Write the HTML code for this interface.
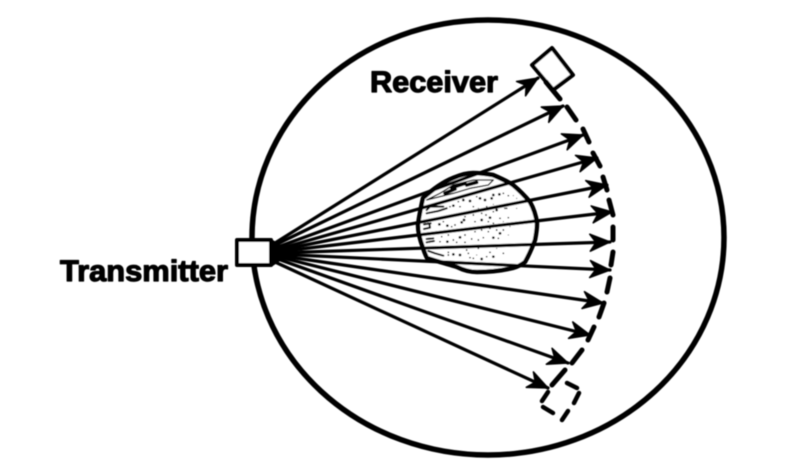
<!DOCTYPE html>
<html><head><meta charset="utf-8"><style>html,body{margin:0;padding:0;background:#fff}svg{display:block}</style></head>
<body><svg width="800" height="475" viewBox="0 0 800 475" xmlns="http://www.w3.org/2000/svg">
<defs>
<filter id="b" x="-5%" y="-5%" width="110%" height="110%"><feGaussianBlur stdDeviation="0.45"/></filter>
<marker id="a" markerUnits="userSpaceOnUse" markerWidth="26" markerHeight="22" refX="23" refY="11" orient="auto"><path d="M3 2.500 L23 11 L3 19.500 L9 11 Z" fill="#000" stroke="#000" stroke-width="1.500" stroke-linejoin="round"/></marker>
</defs>
<g filter="url(#b)" fill="none" stroke="#000" stroke-linecap="round" stroke-linejoin="round">
<ellipse cx="488" cy="237.500" rx="236" ry="217.500" stroke-width="5.500"/>
<rect x="237" y="240" width="34" height="25" fill="#fff" stroke-width="4"/>
<path d="M423 198 C432 190 443 182 453 178 C460 175 466 173 473 173 C480 173 487 174 493 175 C500 178 507 181 513 185 C519 190 525 196 530 202 C534 209 536 216 537 223 C537 229 536 235 535 240 C532 248 529 255 525 262 C521 265 517 267 513 268 C500 271 488 272 477 272 C470 272 463 270 457 267 C447 264 436 261 427 258 C425 254 424 251 423 248 C420 240 418 232 418 225 C419 216 421 207 423 198 Z" fill="#fff" stroke-width="4.500"/>
<g transform="translate(410 165) scale(.3333)">
<path d="M50 105 L90 85 L130 60 L190 45 L250 45 L235 60 L180 70 L130 85 Z" stroke-width="4"/>
<path d="M105 85 L135 72 M125 68 L165 55 M170 60 L200 52" stroke-width="11"/>
<path d="M50 135 L60 125 L100 125 M50 145 L85 138 L110 130 M42 178 L62 175 M42 192 L60 188 L58 176 M50 222 L70 220 M50 232 L72 228 M55 258 L75 265 L100 272" stroke-width="6"/>
<path stroke-width="8" d="M245 100h.1M250 90h.1M268 88h.1M210 100h.1M225 105h.1M180 108h.1M160 105h.1M130 122h.1M155 172h.1M162 165h.1M112 182h.1M88 178h.1M215 165h.1M240 158h.1M260 135h.1M150 270h.1M130 268h.1M215 282h.1M250 275h.1M150 217h.1M250 218h.1M270 205h.1M112 230h.1"/>
<path stroke-width="5" d="M200 95h.1M280 85h.1M295 92h.1M145 110h.1M120 125h.1M290 130h.1M175 140h.1M215 145h.1M295 158h.1M228 150h.1M235 170h.1M195 170h.1M125 185h.1M100 170h.1M135 180h.1M115 210h.1M130 225h.1M165 210h.1M185 222h.1M205 225h.1M235 200h.1M280 195h.1M220 218h.1M265 220h.1M95 215h.1M175 265h.1M230 275h.1M280 265h.1M115 270h.1M190 280h.1M285 130h.1M180 278h.1M250 140h.1M270 160h.1M205 250h.1M150 125h.1M190 125h.1M230 125h.1M165 155h.1M190 150h.1M250 175h.1M150 195h.1M195 200h.1M215 195h.1M240 190h.1M260 195h.1M90 230h.1M140 232h.1M165 232h.1M225 245h.1M240 262h.1M170 255h.1M115 262h.1"/>
<path stroke-width="3" d="M310 92h.1M320 100h.1M300 115h.1M320 130h.1M250 118h.1M270 120h.1M205 130h.1M280 170h.1M300 185h.1M295 210h.1M300 240h.1M280 240h.1M260 250h.1M200 270h.1"/>
<path d="M165 305 L250 305" stroke="#fff" stroke-width="3"/>
</g>
<path d="M272 240 L272 266 L292 252 Z" fill="#000" stroke-width="1"/>
<g stroke-width="3.200" marker-end="url(#a)">
<path d="M275 243 L538 78"/>
<path d="M275 245 L563 106"/>
<path d="M275 248 L583 135"/>
<path d="M275 250 L597 158"/>
<path d="M275 251 L607 185"/>
<path d="M275 252 L612 212"/>
<path d="M275 253 L610 242"/>
<path d="M275 254 L610 270"/>
<path d="M275 255 L603 303"/>
<path d="M275 256 L590 335"/>
<path d="M275 258 L568 363"/>
<path d="M275 262 L548 388"/>
</g>
<path d="M552 48 L573 75 L553 90 L532 65 Z" fill="#fff" stroke-width="4"/>
<path d="M546 82 L560 99 M567 107 L576 120 M583 129 L589 142 M593 153 L600 166 M603 177 L607 190 M609 200 L613 215 M613 227 L613 240 M613 252 L611 265 M610 278 L607 292 M604 303 L599 317 M594 327 L588 340 M582 350 L572 363 M565 370 L552 385" stroke-width="5"/>
<path d="M567 383 L577 388 M579 393 L574 403 M568 411 L562 420 M553 413 L543 407 M542 401 L548 392" stroke-width="4.500"/>
<text x="60" y="281" font-family="'Liberation Sans',sans-serif" font-weight="700" font-size="30" textLength="168" lengthAdjust="spacingAndGlyphs" fill="#000" stroke="#000" stroke-width="1.200">Transmitter</text>
<text x="370" y="92" font-family="'Liberation Sans',sans-serif" font-weight="700" font-size="30" textLength="128" lengthAdjust="spacingAndGlyphs" fill="#000" stroke="#000" stroke-width="1.200">Receiver</text>
</g>
</svg></body></html>
